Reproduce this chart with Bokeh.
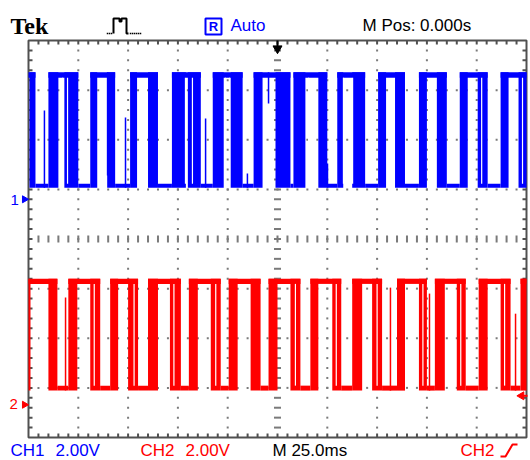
import math
from bokeh.plotting import figure
from bokeh.models import Range1d
from bokeh.embed import file_html
from bokeh.resources import INLINE
from bokeh.core.properties import value

ms_per_div = 25.0
volts_per_div = 2.0
n_xdiv, n_ydiv = 10, 8

ch1_offset_div = 0.8
ch2_offset_div = -3.34
ch1_high_band_v = [4.9, 5.12]
ch1_low_band_v = [0.47, 0.63]
ch2_high_band_v = [4.87, 5.08]
ch2_low_band_v = [0.57, 0.77]
ch2_trigger_level_v = 0.36
trigger_time_ms = 0.0

# edge jitter bands of every pulse, in ms (rise start/end, fall start/end)
ch1_rise_start = [-125, -115, -94, -74, -53, -32.5, -12, 8, 30, 50.5, 71, 91.5, 112]
ch1_rise_end   = [-125, -110, -90.5, -70.5, -46, -27, -7.5, 14, 33, 54.5, 75, 95.5, 116]
ch1_fall_start = [-124.5, -107, -85.5, -65, -45, -23.5, -1, 20.5, 37.5, 59, 80, 100.5, 121]
ch1_fall_end   = [-121.5, -100, -81.5, -60, -38.5, -17.5, 6.5, 25, 44, 64, 85, 105.5, 125]

ch2_rise_start = [-125, -105, -84, -65, -44.5, -24.5, -4.5, 16.5, 37.5, 60, 79, 101, 122]
ch2_rise_end   = [-124, -100.5, -80, -60, -40, -20, 0, 20.5, 42.5, 64, 84, 105.5, 125]
ch2_fall_start = [-115, -94, -75, -54, -33.5, -13.5, 6.5, 27.5, 47.5, 71, 90, 112, 125]
ch2_fall_end   = [-110.5, -89, -70, -48.5, -28.5, -8.5, 11.5, 32, 52.5, 75, 94.5, 117, 125]

# single-sweep glitches: time (ms) and the voltage they reach from the low level
ch1_spike_t = [-117, -76.3, -36.1, -15.1, 25.1]
ch1_spike_v = [3.58, 3.30, 3.26, 1.04, 1.44]
ch2_spike_t = [-106.4, 56.7, 76.3, 119.5]
ch2_spike_v = [4.32, 4.72, 4.48, 3.67]
# drop-outs hanging from the high level: time (ms) and voltage reached
ch1_drop_t = [-85.3, -4.5]
ch1_drop_v = [0.96, 3.86]
# thin unlit gaps inside the thick edge bands (ms)
ch1_gap_t = [-107.9, -105.4, -46.2, -42.7, -26.1, -24.1, 15.6, 33.1, 37.7, 102.5, 123]
ch2_gap_t = [-120.5, -118.5, -92, -72, -52, -31, 9, 29.5, 50, 73, 92, 114]

# ---------------- layout ----------------
W, H = 530, 460
FX0, FX1, FY0, FY1 = 28, 526, 40, 437          # graticule edges on the canvas (px)
mpp = n_xdiv * ms_per_div / (FX1 - FX0)
dpp = n_ydiv / (FY1 - FY0)
half_t = n_xdiv * ms_per_div / 2
half_d = n_ydiv / 2
x0 = -half_t - FX0 * mpp
x1 = half_t + (W - FX1) * mpp
y1 = half_d + FY0 * dpp
y0 = -half_d - (H - FY1) * dpp


def X(rx):  # canvas px -> data x
    return x0 + rx * mpp


def Y(ry):
    return y1 - ry * dpp


BLUE = "#0000ff"
RED = "#ff0000"
GRID = "#7a7a7a"
SANS = value("Liberation Sans")

p = figure(width=W, height=H, x_range=Range1d(x0, x1), y_range=Range1d(y0, y1),
           x_axis_location=None, y_axis_location=None, min_border=0,
           toolbar_location=None, output_backend="svg")
p.grid.visible = False
p.outline_line_color = None
p.background_fill_color = "white"
p.border_fill_color = "white"

# ---------------- graticule ----------------
step_t = ms_per_div / 5
step_d = 0.2
nt = int(round(2 * half_t / step_t))
nd = int(round(2 * half_d / step_d))
ts = [-half_t + i * step_t for i in range(1, nt)]
ds = [-half_d + i * step_d for i in range(1, nd)]
major_t = [-half_t + i * ms_per_div for i in range(1, n_xdiv)]
major_d = [-half_d + i for i in range(1, n_ydiv)]

dx, dy = [], []
for mt in major_t:
    if abs(mt) < 1e-9:
        continue
    for d in ds:
        dx.append(mt); dy.append(d)
for md in major_d:
    if abs(md) < 1e-9:
        continue
    for t in ts:
        dx.append(t); dy.append(md)
p.rect(x=dx, y=dy, width=2, height=2, width_units="screen", height_units="screen",
       fill_color=GRID, line_color=None)

# centre cross dashes
p.rect(x=[0] * len(ds), y=ds, width=7, height=2, width_units="screen", height_units="screen",
       fill_color=GRID, line_color=None)
p.rect(x=ts, y=[0] * len(ts), width=2, height=7, width_units="screen", height_units="screen",
       fill_color=GRID, line_color=None)

# edge ticks
tl = 4
sx0, sy0, sx1, sy1 = [], [], [], []
for t in ts:
    sx0 += [t, t]; sx1 += [t, t]
    sy0 += [half_d, -half_d]; sy1 += [half_d - tl * dpp, -half_d + tl * dpp]
for d in ds:
    sx0 += [-half_t, half_t]; sx1 += [-half_t + tl * mpp, half_t - tl * mpp]
    sy0 += [d, d]; sy1 += [d, d]
p.segment(x0=sx0, y0=sy0, x1=sx1, y1=sy1, line_color="#505050", line_width=2)

p.quad(left=[-half_t], right=[half_t], bottom=[-half_d], top=[half_d],
       fill_color=None, line_color="#505050", line_width=2)


# ---------------- traces ----------------
def draw_channel(rs, re, fs, fe, hi, lo, off, color, gaps, sp_t, sp_v, dr_t, dr_v):
    hb, ht = off + hi[0] / volts_per_div, off + hi[1] / volts_per_div
    lb, lt = off + lo[0] / volts_per_div, off + lo[1] / volts_per_div
    L, R, B, T = [], [], [], []
    for a, b, c, d in zip(rs, re, fs, fe):
        L += [a, c, a]; R += [b, d, d]; B += [lb, lb, hb]; T += [ht, ht, ht]
    starts = [-half_t] + fe
    ends = rs + [half_t]
    for s, e in zip(starts, ends):
        if e > s:
            L.append(s); R.append(e); B.append(lb); T.append(lt)
    p.quad(left=L, right=R, bottom=B, top=T, fill_color=color, line_color=None)
    # unlit gaps inside the edge bands
    p.segment(x0=gaps, y0=[lt] * len(gaps), x1=gaps, y1=[hb] * len(gaps),
              line_color="white", line_width=1.2)
    # glitches
    p.segment(x0=sp_t, y0=[lb] * len(sp_t), x1=sp_t,
              y1=[off + v / volts_per_div for v in sp_v], line_color=color, line_width=1.5)
    if dr_t:
        p.segment(x0=dr_t, y0=[ht] * len(dr_t), x1=dr_t,
                  y1=[off + v / volts_per_div for v in dr_v], line_color=color, line_width=1.5)


draw_channel(ch1_rise_start, ch1_rise_end, ch1_fall_start, ch1_fall_end,
             ch1_high_band_v, ch1_low_band_v, ch1_offset_div, BLUE,
             ch1_gap_t, ch1_spike_t, ch1_spike_v, ch1_drop_t, ch1_drop_v)
draw_channel(ch2_rise_start, ch2_rise_end, ch2_fall_start, ch2_fall_end,
             ch2_high_band_v, ch2_low_band_v, ch2_offset_div, RED,
             ch2_gap_t, ch2_spike_t, ch2_spike_v, [], [])

# ---------------- markers ----------------
p.scatter(x=[X(24)], y=[ch1_offset_div], marker="triangle", size=7, angle=-math.pi / 2,
          fill_color=BLUE, line_color=BLUE)
p.scatter(x=[X(24)], y=[ch2_offset_div], marker="triangle", size=7, angle=-math.pi / 2,
          fill_color=RED, line_color=RED)
p.text(x=[X(10)], y=[Y(199.5)], text=["1"], text_color=BLUE, text_font=SANS,
       text_font_size="15px", text_baseline="middle")
p.text(x=[X(9)], y=[Y(403)], text=["2"], text_color=RED, text_font=SANS,
       text_font_size="15px", text_baseline="middle")

trig_y = ch2_offset_div + ch2_trigger_level_v / volts_per_div
p.scatter(x=[X(521)], y=[trig_y], marker="triangle", size=8, angle=math.pi / 2,
          fill_color=RED, line_color=RED)
p.segment(x0=[X(521)], y0=[trig_y], x1=[X(527)], y1=[trig_y], line_color=RED, line_width=2)

p.scatter(x=[trigger_time_ms], y=[Y(48)], marker="inverted_triangle", size=9,
          fill_color="black", line_color="black")
p.segment(x0=[trigger_time_ms], y0=[Y(40)], x1=[trigger_time_ms], y1=[Y(46)],
          line_color="black", line_width=2)

# ---------------- header ----------------
p.text(x=[X(10)], y=[Y(25)], text=["Tek"], text_color="black",
       text_font=value("Liberation Serif"), text_font_style="bold",
       text_font_size="24px", text_baseline="middle")
p.text(x=[X(230)], y=[Y(25)], text=["Auto"], text_color=BLUE, text_font=SANS,
       text_font_size="17px", text_baseline="middle")
p.text(x=[X(362)], y=[Y(25)], text=["M Pos: 0.000s"], text_color="black", text_font=SANS,
       text_font_size="17px", text_baseline="middle")
# R box
p.quad(left=[X(205)], right=[X(221)], top=[Y(18)], bottom=[Y(34)],
       fill_color=None, line_color=BLUE, line_width=2)
p.text(x=[X(213)], y=[Y(26)], text=["R"], text_color=BLUE, text_font=SANS,
       text_font_style="bold", text_font_size="13px", text_baseline="middle",
       text_align="center")
# trigger-type pulse icon
p.line(x=[X(113), X(113), X(119), X(119), X(121), X(121), X(126), X(126), X(128)],
       y=[Y(33), Y(18), Y(18), Y(21), Y(21), Y(18), Y(18), Y(33), Y(33)],
       line_color="black", line_width=2)
p.rect(x=[X(v) for v in (107, 109, 111, 130, 132, 134, 136, 138, 140)], y=[Y(33)] * 9,
       width=1.5, height=1.5, width_units="screen", height_units="screen",
       fill_color="black", line_color=None)

# ---------------- footer ----------------
by = Y(450)
p.text(x=[X(10), X(55)], y=[by, by], text=["CH1", "2.00V"], text_color=BLUE,
       text_font=SANS, text_font_size="17px", text_baseline="middle")
p.text(x=[X(140), X(185), X(460)], y=[by, by, by], text=["CH2", "2.00V", "CH2"],
       text_color=RED, text_font=SANS, text_font_size="17px", text_baseline="middle")
p.text(x=[X(272)], y=[by], text=["M 25.0ms"], text_color="black",
       text_font=SANS, text_font_size="17px", text_baseline="middle")
p.line(x=[X(500), X(505), X(512), X(517)], y=[Y(456), Y(456), Y(444), Y(444)],
       line_color=RED, line_width=2)

open("out.html", "w").write(file_html(p, INLINE))
